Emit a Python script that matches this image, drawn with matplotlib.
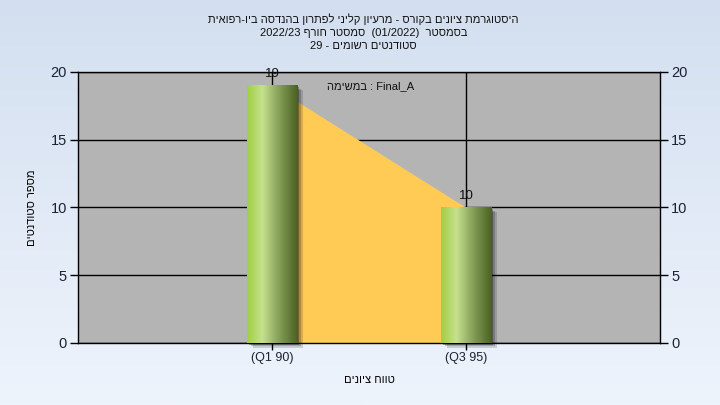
import re
import numpy as np
import matplotlib
matplotlib.use('Agg')
import matplotlib.pyplot as plt
from matplotlib.colors import LinearSegmentedColormap
from matplotlib.patches import Rectangle
from matplotlib import transforms

plt.rcParams['font.family'] = ['Liberation Sans', 'DejaVu Sans']

# data
categories = ['(Q1 90)', '(Q3 95)']
counts = [19, 10]
y_ticks = [0, 5, 10, 15, 20]

title_lines = ['היסטוגרמת ציונים בקורס - מרעיון קליני לפתרון בהנדסה ביו-רפואית',
               'בסמסטר  (01/2022)  סמסטר חורף 2022/23',
               'סטודנטים רשומים - 29']
x_label = 'טווח ציונים'
y_label = 'מספר סטודנטים'
task_label = 'Final_A : במשימה'


def rtl(s):
    # crude bidi: reverse the line but keep latin / digit runs left-to-right
    tokens = re.findall(r'\(?[A-Za-z0-9_/.]+\)?|.', s)
    return ''.join(reversed(tokens))


fig = plt.figure(figsize=(7.2, 4.05), dpi=100)

# background gradient
bg = fig.add_axes([0, 0, 1, 1], zorder=-10)
grad = np.linspace(0, 1, 256).reshape(-1, 1)
bg_cmap = LinearSegmentedColormap.from_list('bg', ['#eef4fc', '#d3dff0'])
bg.imshow(grad, aspect='auto', cmap=bg_cmap, origin='lower', extent=[0, 1, 0, 1])
bg.set_axis_off()

ax = fig.add_axes([78 / 720, 62 / 405, 582 / 720, 271 / 405])
ax.set_facecolor('#b4b4b4')

x = np.arange(1, len(categories) + 1)
ax.fill_between(x, counts, 0, color='#ffcb55', zorder=1, linewidth=0)

bar_cmap = LinearSegmentedColormap.from_list(
    'bar', [(0, '#a0cf42'), (0.3, '#c6e18e'), (0.65, '#819c55'), (1, '#4a6020')])
w = 0.26
hgrad = np.linspace(0, 1, 256).reshape(1, -1)
for xi, c in zip(x, counts):
    for off, a in [(6, 0.15), (4, 0.2), (2, 0.3)]:
        tr = transforms.offset_copy(ax.transData, fig=fig, x=off, y=-off * 0.8, units='dots')
        ax.add_patch(Rectangle((xi - w / 2, 0), w, c, transform=tr, facecolor='black',
                               alpha=a, linewidth=0, zorder=2, clip_on=False))
    ax.imshow(hgrad, aspect='auto', cmap=bar_cmap, extent=[xi - w / 2, xi + w / 2, 0, c], zorder=3)
    ax.annotate(str(c), (xi, c), xytext=(0, 4), textcoords='offset points',
                ha='center', va='bottom', fontsize=9.5, color='#111111', zorder=5)

ax.set_xlim(0, 3)
ax.set_ylim(0, 20)
ax.set_xticks(x)
ax.set_xticklabels(categories)
ax.set_yticks(y_ticks)
ax.grid(True, color='black', linewidth=1)
ax.set_axisbelow(True)
ax.tick_params(axis='y', right=True, labelright=True, length=6, width=1,
               labelsize=10.5, labelcolor='#1b2333', direction='out', pad=2)
ax.tick_params(axis='x', length=5, width=1, labelsize=9, labelcolor='#1b2333', pad=1.5)
for s in ax.spines.values():
    s.set_color('black')
    s.set_linewidth(1)

ax.set_xlabel(rtl(x_label), fontsize=8, labelpad=8)
ax.set_ylabel(rtl(y_label), fontsize=8, labelpad=10)

ax.text(0.502, 0.948, rtl(task_label), transform=ax.transAxes, ha='center', va='center',
        fontsize=8, color='#111111', zorder=6)

fig.text(0.505, 0.968, '\n'.join(rtl(t) for t in title_lines), ha='center', va='top',
         fontsize=8, linespacing=1.4, color='#111111')

fig.savefig('out.png', dpi=100)
